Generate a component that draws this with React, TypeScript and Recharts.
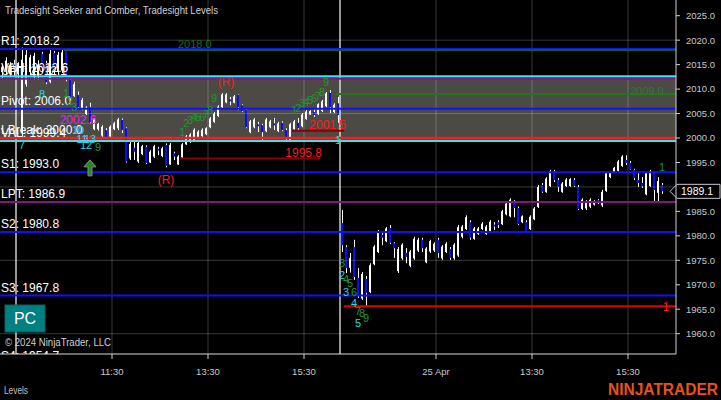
import React from "react";
import {
  ComposedChart,
  Bar,
  XAxis,
  YAxis,
  ReferenceLine,
  ReferenceArea,
  ReferenceDot,
} from "recharts";

const FONT = "'Liberation Sans', Arial, sans-serif";

// open, high, low, close (5 minute bars)
type Ohlc = [number, number, number, number];

const preSession: Ohlc[] = [
  [2013.5, 2015.0, 2012.0, 2014.5],
  [2014.0, 2016.5, 2013.0, 2015.8],
  [2013.0, 2015.5, 2012.5, 2015.0],
  [2015.0, 2016.0, 2012.5, 2013.5],
];

const sessionApr24: Ohlc[] = [
  [2013.0, 2015.5, 2012.0, 2015.0],
  [2001.0, 2018.5, 2000.2, 2016.0],
  [2011.0, 2018.0, 2010.5, 2017.0],
  [2013.5, 2017.0, 2012.9, 2016.5],
  [2012.5, 2017.4, 2011.9, 2016.8],
  [2012.5, 2015.9, 2011.9, 2015.0],
  [2017.2, 2017.6, 2013.3, 2014.3],
  [2015.3, 2015.8, 2011.0, 2011.4],
  [2011.5, 2018.0, 2011.2, 2017.2],
  [2017.4, 2017.8, 2013.0, 2013.9],
  [2013.5, 2017.6, 2012.9, 2017.0],
  [2013.8, 2018.0, 2013.3, 2017.5],
  [2018.0, 2018.2, 2011.6, 2012.0],
  [2011.9, 2012.2, 2008.2, 2008.4],
  [2008.6, 2011.5, 2008.4, 2011.0],
  [2008.8, 2009.5, 2006.0, 2006.3],
  [2006.0, 2008.2, 2005.7, 2007.8],
  [2004.9, 2006.5, 2004.7, 2006.2],
  [2006.3, 2007.2, 2003.0, 2003.2],
  [2001.8, 2004.1, 2001.6, 2003.8],
  [2001.8, 2003.1, 2001.5, 2002.9],
  [2000.5, 2002.6, 2000.2, 2002.3],
  [2001.6, 2002.0, 2000.0, 2000.2],
  [2000.3, 2002.6, 2000.0, 2002.3],
  [2001.8, 2003.3, 2001.6, 2003.0],
  [2002.0, 2004.1, 2001.6, 2003.8],
  [2003.7, 2004.0, 2001.0, 2001.6],
  [2002.0, 2002.2, 1995.0, 1995.2],
  [1995.8, 1999.2, 1995.5, 1998.8],
  [1998.0, 1999.2, 1995.5, 1997.2],
  [1995.2, 1999.6, 1994.9, 1999.0],
  [1996.7, 1998.6, 1996.5, 1998.3],
  [1998.2, 1998.5, 1994.7, 1994.9],
  [1995.0, 1997.5, 1994.9, 1997.2],
  [1996.2, 1998.6, 1995.9, 1998.3],
  [1997.8, 1998.2, 1996.5, 1997.4],
  [1996.3, 1998.2, 1996.1, 1997.9],
  [1998.6, 1998.9, 1994.0, 1994.3],
  [1994.6, 1999.0, 1994.5, 1998.6],
  [1996.9, 1997.2, 1995.5, 1996.2],
  [1994.6, 1996.5, 1994.5, 1996.2],
  [1996.0, 1999.0, 1995.9, 1998.7],
  [1998.7, 2000.6, 1998.6, 2000.3],
  [1999.2, 2001.0, 1999.0, 2000.7],
  [1999.4, 2002.0, 1999.2, 2001.7],
  [2000.2, 2001.6, 2000.0, 2001.3],
  [2000.4, 2002.0, 2000.2, 2001.7],
  [2000.8, 2002.2, 2000.6, 2002.0],
  [2002.2, 2004.3, 2002.0, 2004.0],
  [2003.3, 2005.3, 2003.1, 2005.0],
  [2004.5, 2006.7, 2004.3, 2006.4],
  [2006.3, 2009.2, 2006.1, 2008.9],
  [2007.3, 2009.2, 2007.1, 2008.9],
  [2007.9, 2008.4, 2006.7, 2007.5],
  [2007.2, 2008.8, 2007.1, 2008.5],
  [2008.8, 2008.9, 2005.7, 2006.3],
  [2006.7, 2006.9, 2005.3, 2005.5],
  [2005.7, 2006.0, 2002.0, 2002.2],
  [2001.2, 2003.7, 2001.0, 2003.4],
  [2002.2, 2004.1, 2002.0, 2003.8],
  [2002.8, 2003.3, 2001.2, 2002.4],
  [2002.6, 2002.9, 1999.6, 2001.2],
  [2001.4, 2004.1, 2001.2, 2003.8],
  [2002.2, 2003.7, 2002.0, 2003.4],
  [2003.0, 2004.1, 2001.6, 2002.6],
  [2001.4, 2003.3, 2001.2, 2003.0],
  [2003.1, 2003.4, 2001.4, 2001.6],
  [2001.6, 2002.0, 1999.6, 2000.0],
  [1999.4, 2003.1, 1999.2, 2002.8],
  [2001.8, 2003.7, 2001.6, 2003.4],
  [2003.1, 2004.1, 2001.6, 2002.0],
  [2002.4, 2005.1, 2002.2, 2004.8],
  [2003.9, 2005.7, 2003.7, 2005.4],
  [2004.8, 2005.7, 2004.7, 2005.5],
  [2005.3, 2006.1, 2004.3, 2004.7],
  [2004.9, 2007.1, 2004.7, 2006.9],
  [2005.5, 2007.8, 2005.3, 2007.5],
  [2006.5, 2009.4, 2006.3, 2009.1],
  [2009.2, 2009.8, 2005.1, 2006.3],
  [2005.3, 2007.1, 2005.1, 2006.8],
  [2007.1, 2008.4, 2003.1, 2004.7],
];

const sessionApr25: Ohlc[] = [
  [1982.6, 1985.3, 1976.7, 1978.1],
  [1977.7, 1978.1, 1972.4, 1973.4],
  [1973.5, 1976.5, 1972.5, 1975.5],
  [1977.7, 1979.2, 1971.0, 1971.6],
  [1971.4, 1973.4, 1967.3, 1967.9],
  [1967.2, 1972.6, 1966.9, 1972.2],
  [1971.2, 1971.8, 1965.5, 1968.3],
  [1968.5, 1974.4, 1968.3, 1974.0],
  [1974.2, 1978.1, 1974.0, 1977.8],
  [1976.7, 1981.2, 1976.5, 1980.8],
  [1980.2, 1980.8, 1978.1, 1979.6],
  [1978.9, 1981.8, 1978.7, 1981.5],
  [1981.6, 1982.2, 1978.3, 1978.6],
  [1978.5, 1978.7, 1975.5, 1977.5],
  [1972.8, 1977.7, 1972.4, 1977.3],
  [1975.4, 1978.5, 1975.1, 1978.2],
  [1976.5, 1977.5, 1974.4, 1975.7],
  [1973.9, 1977.1, 1973.6, 1976.8],
  [1975.4, 1979.8, 1975.1, 1979.4],
  [1977.0, 1979.6, 1976.7, 1979.2],
  [1979.2, 1979.6, 1976.7, 1977.5],
  [1974.6, 1977.7, 1974.4, 1977.4],
  [1976.8, 1979.2, 1976.5, 1978.9],
  [1977.0, 1978.7, 1976.7, 1978.4],
  [1979.2, 1979.6, 1975.5, 1976.5],
  [1975.4, 1978.1, 1975.1, 1977.8],
  [1976.7, 1978.7, 1976.5, 1978.4],
  [1977.3, 1977.7, 1975.1, 1975.5],
  [1975.4, 1978.5, 1975.1, 1978.2],
  [1976.0, 1982.2, 1975.7, 1981.8],
  [1979.8, 1982.2, 1979.5, 1981.9],
  [1981.4, 1984.2, 1981.2, 1983.8],
  [1982.8, 1983.2, 1979.2, 1979.6],
  [1979.4, 1981.8, 1979.2, 1981.5],
  [1980.4, 1981.8, 1980.2, 1981.5],
  [1981.4, 1982.8, 1981.2, 1982.5],
  [1980.4, 1982.2, 1980.2, 1981.9],
  [1981.0, 1983.2, 1980.8, 1982.9],
  [1982.3, 1982.8, 1981.2, 1981.9],
  [1982.8, 1983.2, 1981.6, 1982.2],
  [1982.4, 1985.3, 1982.2, 1985.0],
  [1984.4, 1986.9, 1984.2, 1986.6],
  [1984.0, 1987.7, 1983.8, 1987.4],
  [1986.7, 1987.3, 1983.8, 1985.7],
  [1985.7, 1986.0, 1982.2, 1982.4],
  [1982.8, 1984.2, 1982.6, 1984.0],
  [1982.8, 1983.2, 1980.6, 1980.8],
  [1981.4, 1984.2, 1981.2, 1983.9],
  [1983.4, 1985.9, 1983.2, 1985.6],
  [1985.9, 1990.4, 1985.7, 1990.0],
  [1990.4, 1990.8, 1988.8, 1989.0],
  [1989.0, 1992.0, 1988.8, 1991.7],
  [1990.2, 1993.5, 1990.0, 1993.2],
  [1993.1, 1993.5, 1991.0, 1991.4],
  [1991.4, 1991.8, 1989.0, 1990.0],
  [1989.0, 1991.0, 1988.8, 1990.7],
  [1990.2, 1991.8, 1990.0, 1991.5],
  [1990.2, 1991.8, 1990.0, 1991.6],
  [1991.4, 1991.8, 1990.0, 1990.2],
  [1990.0, 1990.4, 1985.3, 1985.5],
  [1985.5, 1987.7, 1985.3, 1987.4],
  [1985.6, 1987.3, 1985.3, 1987.0],
  [1986.0, 1987.7, 1985.7, 1987.4],
  [1986.4, 1987.3, 1986.2, 1987.0],
  [1987.3, 1987.5, 1986.5, 1986.7],
  [1986.2, 1989.4, 1985.9, 1989.0],
  [1989.2, 1993.1, 1989.0, 1992.8],
  [1992.0, 1993.1, 1991.8, 1992.9],
  [1993.0, 1994.1, 1992.8, 1993.9],
  [1993.3, 1995.5, 1993.1, 1995.2],
  [1994.3, 1996.5, 1994.1, 1996.2],
  [1995.5, 1996.5, 1994.5, 1994.9],
  [1994.9, 1995.3, 1993.5, 1993.6],
  [1993.5, 1993.7, 1991.4, 1991.8],
  [1991.4, 1992.8, 1990.0, 1990.8],
  [1990.8, 1992.0, 1989.8, 1990.1],
  [1988.5, 1993.1, 1988.3, 1992.8],
  [1990.2, 1993.5, 1990.0, 1993.2],
  [1993.1, 1993.1, 1986.9, 1989.4],
  [1988.8, 1992.0, 1987.0, 1991.2],
  [1990.4, 1990.8, 1988.6, 1989.1],
];

const SLOT_COUNT = 169;
const sessionStarts = [4, 85];
const timeTickSlots = [28, 52, 76, 109, 133, 157];
const timeTickLabels = ["11:30", "13:30", "15:30", "25 Apr", "13:30", "15:30"];
// 1990.0 is hidden behind the last-price marker
const priceTicks = [1960, 1965, 1970, 1975, 1980, 1985, 1995, 2000, 2005, 2010, 2015, 2020, 2025];
const gridPrices = [2020, 2005, 1990, 1975, 1960];

const BLUE = "#1010ff";
const CYAN = "#2ee8ee";
const PURPLE = "#8a108a";
const RED = "#ff1a1a";

// [label, price, colour]
const levels: [string, number, string][] = [
  ["R1: 2018.2", 2018.2, BLUE],
  ["VAH: 2012.6", 2012.6, CYAN],
  ["UPT: 2012.1", 2012.1, PURPLE],
  ["Pivot: 2006.0", 2006.0, BLUE],
  ["LBreak: 2000.0", 2000.0, RED],
  ["VAL: 1999.4", 1999.4, CYAN],
  ["S1: 1993.0", 1993.0, BLUE],
  ["LPT: 1986.9", 1986.9, PURPLE],
  ["S2: 1980.8", 1980.8, BLUE],
  ["S3: 1967.8", 1967.8, BLUE],
];
const valueArea = [1999.4, 2012.6];

// [fromSlot, toSlot, price, colour] drawn from end of fromSlot to end of toSlot
const segments: [number, number, number, string][] = [
  [15, 168, 2018.0, "#0b640b"],
  [83, 168, 2009.0, "#1b7a1b"],
  [44, 79, 1995.8, "#8b0000"],
  [72, 85, 2001.5, "#8b0000"],
  [85, 168, 1965.6, "#e00000"],
];

const G = "#24962a";
const C = "#22dde6";
// [slot, price, text, colour, anchor, size]
const notes: [number, number, string, string, string, number][] = [
  [44, 2019.2, "2018.0", "#1b6e1b", "start", 11],
  [157, 2009.6, "2009.0", "#2a7f2a", "start", 11],
  [80, 1996.9, "1995.8", RED, "end", 12],
  [86, 2002.6, "2001.5", RED, "end", 12],
  [166, 1965.4, "1", RED, "middle", 12],
  [56, 2011.4, "(R)", RED, "middle", 12],
  [41, 1991.4, "(R)", RED, "middle", 12],
  [19, 2003.7, "2002.6", "#ee22ee", "middle", 12],
  [10, 2009.0, "8", C, "middle", 11],
  [5, 1998.6, "7", C, "middle", 11],
  [16, 2009.2, "1", G, "middle", 11],
  [17, 2007.6, "2", G, "middle", 11],
  [18, 2006.4, "3", G, "middle", 11],
  [19, 2001.6, "10", C, "middle", 11],
  [20, 1999.8, "11", C, "middle", 11],
  [22, 1999.8, "13", C, "middle", 11],
  [21, 1998.6, "12", C, "middle", 11],
  [24, 1998.2, "9", G, "middle", 11],
  [45, 2001.2, "1", G, "middle", 11],
  [46, 2003.1, "2", G, "middle", 11],
  [47, 2003.7, "3", G, "middle", 11],
  [48, 2004.3, "4", G, "middle", 11],
  [49, 2004.3, "5", G, "middle", 11],
  [50, 2004.3, "6", G, "middle", 11],
  [51, 2004.9, "7", G, "middle", 11],
  [52, 2005.7, "8", G, "middle", 11],
  [53, 2008.2, "9", G, "middle", 11],
  [73, 2005.7, "1", G, "middle", 11],
  [74, 2006.1, "2", G, "middle", 11],
  [75, 2007.1, "3", G, "middle", 11],
  [76, 2007.4, "4", G, "middle", 11],
  [77, 2007.8, "5", G, "middle", 11],
  [78, 2008.2, "6", G, "middle", 11],
  [79, 2008.6, "7", G, "middle", 11],
  [80, 2009.4, "8", G, "middle", 11],
  [81, 2011.4, "9", G, "middle", 11],
  [84, 1999.6, "1", C, "middle", 11],
  [165, 1994.1, "1", G, "middle", 11],
  [85, 1974.4, "3", G, "middle", 11],
  [85, 1972.0, "2", C, "middle", 11],
  [86, 1971.2, "4", G, "middle", 11],
  [87, 1970.4, "5", G, "middle", 11],
  [86, 1968.5, "3", C, "middle", 11],
  [88, 1968.5, "6", G, "middle", 11],
  [88, 1966.3, "4", C, "middle", 11],
  [89, 1964.6, "7", G, "middle", 11],
  [90, 1964.2, "8", G, "middle", 11],
  [91, 1963.2, "9", G, "middle", 11],
  [89, 1962.2, "5", C, "middle", 11],
];

const arrowSignal = { slot: 22, price: 1993.9 };

const allBars = [...preSession, ...sessionApr24, ...sessionApr25];
const lastClose = sessionApr25[sessionApr25.length - 1][3];

const data = Array.from({ length: SLOT_COUNT }, (_, slot) => {
  const b = allBars[slot];
  return b
    ? { slot, open: b[0], high: b[1], low: b[2], close: b[3], range: [b[2], b[1]] }
    : { slot, range: null };
});

const Candle = (props: any) => {
  const { x, y, width, height, payload } = props;
  if (!payload || !payload.range) return null;
  const top = Math.min(y, y + height);
  const h = Math.abs(height);
  const span = payload.high - payload.low || 1;
  const py = (v: number) => top + ((payload.high - v) / span) * h;
  const cx = Math.round(x + width / 2);
  const b1 = py(Math.max(payload.open, payload.close));
  const b2 = py(Math.min(payload.open, payload.close));
  const up = payload.close >= payload.open;
  return (
    <g>
      <rect x={cx} y={top} width={1} height={Math.max(1, h)} fill="#ffffff" />
      <rect x={cx - 1} y={b1} width={2} height={Math.max(1, b2 - b1)} fill={up ? "#ffffff" : "#0a0aff"} />
    </g>
  );
};

const levelLabel = (text: string) => (props: any) => {
  const vb = props.viewBox || {};
  return (
    <text x={(vb.x ?? 0) + 1} y={(vb.y ?? 0) - 4} fill="#ffffff" fontSize={12} fontFamily={FONT}>
      {text}
    </text>
  );
};

const priceMarker = (props: any) => {
  const vb = props.viewBox || {};
  const x = (vb.x ?? 0) + (vb.width ?? 0);
  const y = vb.y ?? 0;
  return (
    <g>
      <polygon
        points={`${x - 6},${y} ${x + 1},${y - 7} ${x + 44},${y - 7} ${x + 44},${y + 7} ${x + 1},${y + 7}`}
        fill="#000"
        stroke="#c8c8c8"
      />
      <text x={x + 5} y={y + 4} fill="#ffffff" fontSize={10.5} fontFamily={FONT}>
        {lastClose.toFixed(1)}
      </text>
    </g>
  );
};

const TimeTick = (props: any) => {
  const { x, payload } = props;
  const bx = x - (payload.offset || 0);
  const i = timeTickSlots.indexOf(payload.value);
  return (
    <g>
      <line x1={bx} x2={bx} y1={354} y2={359} stroke="#d0d0d0" />
      <text x={bx} y={375} textAnchor="middle" fill="#c8c8c8" fontSize={9.5} fontFamily={FONT}>
        {i >= 0 ? timeTickLabels[i] : ""}
      </text>
    </g>
  );
};

const noteShape = (text: string, color: string, anchor: string, size: number) => (p: any) => (
  <text
    x={p.cx}
    y={p.cy}
    textAnchor={anchor as any}
    dominantBaseline="central"
    fill={color}
    fontSize={size}
    fontFamily={FONT}
  >
    {text}
  </text>
);

const arrowShape = (p: any) => {
  const { cx, cy } = p;
  const pts = [
    [cx, cy - 8],
    [cx + 6, cy - 1],
    [cx + 2, cy - 1],
    [cx + 2, cy + 8],
    [cx - 2, cy + 8],
    [cx - 2, cy - 1],
    [cx - 6, cy - 1],
  ]
    .map((q) => q.join(","))
    .join(" ");
  return <polygon points={pts} fill="#1e8c1e" stroke="#8a8a8a" strokeWidth={1} />;
};

export default function App() {
  return (
    <div style={{ position: "relative", width: 721, height: 400, background: "#000", overflow: "hidden" }}>
      <style>{"body{margin:0;background:#000}"}</style>
      <ComposedChart
        width={721}
        height={400}
        data={data}
        margin={{ top: 0, right: 0, bottom: 0, left: 0 }}
        barCategoryGap={0}
        barGap={0}
        style={{ background: "#000" }}
      >
        <XAxis
          dataKey="slot"
          type="category"
          ticks={timeTickSlots}
          interval={0}
          height={46}
          tickLine={false}
          axisLine={{ stroke: "#d8d8d8" }}
          tick={<TimeTick />}
        />
        <YAxis
          orientation="right"
          type="number"
          width={45}
          domain={[1955.85, 2028.21]}
          allowDataOverflow
          ticks={priceTicks}
          tickFormatter={(v: number) => v.toFixed(1)}
          tickSize={4}
          tickMargin={6}
          stroke="#d0d0d0"
          tick={{ fill: "#c8c8c8", fontSize: 9.5, fontFamily: FONT }}
        />
        <ReferenceArea y1={valueArea[0]} y2={valueArea[1]} fill="#4b4a45" fillOpacity={1} stroke="none" />
        {gridPrices.map((p) => (
          <ReferenceLine key={"gy" + p} y={p} stroke="rgba(255,255,255,0.22)" />
        ))}
        {timeTickSlots.map((s) => (
          <ReferenceLine key={"gx" + s} x={s} position="start" stroke="rgba(255,255,255,0.22)" />
        ))}
        {sessionStarts.map((s) => (
          <ReferenceLine key={"ss" + s} x={s} position="start" stroke="#ffffff" strokeWidth={1.2} />
        ))}
        {levels.map(([name, value, color]) => (
          <ReferenceLine
            key={name}
            y={value}
            stroke={color}
            strokeWidth={color === RED ? 2.5 : 2}
            label={levelLabel(name)}
          />
        ))}
        {segments.map(([a, b, price, color]) => (
          <ReferenceLine
            key={"seg" + a + price}
            position="end"
            segment={[
              { x: a, y: price },
              { x: b, y: price },
            ]}
            stroke={color}
            strokeWidth={2}
          />
        ))}
        <ReferenceLine y={lastClose} stroke="none" label={priceMarker} />
        <Bar dataKey="range" isAnimationActive={false} shape={Candle} />
        <ReferenceDot
          x={arrowSignal.slot}
          y={arrowSignal.price}
          r={1}
          ifOverflow="visible"
          shape={arrowShape}
        />
        {notes.map(([slot, price, text, color, anchor, size], i) => (
          <ReferenceDot
            key={"n" + i}
            x={slot}
            y={price}
            r={1}
            ifOverflow="visible"
            shape={noteShape(text, color, anchor, size)}
          />
        ))}
      </ComposedChart>

      <svg
        width={721}
        height={400}
        style={{ position: "absolute", left: 0, top: 0, pointerEvents: "none" }}
        fontFamily={FONT}
      >
        <text x={5} y={14} fill="#d0d0d0" fontSize={10.5} textLength={213} lengthAdjust="spacingAndGlyphs">
          Tradesight Seeker and Comber, Tradesight Levels
        </text>
        <rect x={5} y={305} width={40} height={27} fill="#008080" stroke="#0b6060" />
        <text x={25} y={324} textAnchor="middle" fill="#ffffff" fontSize={16}>
          PC
        </text>
        <text x={5} y={346} fill="#d0d0d0" fontSize={10.5} textLength={106} lengthAdjust="spacingAndGlyphs">
          © 2024 NinjaTrader, LLC
        </text>
        <clipPath id="plotBottom">
          <rect x={0} y={336} width={120} height={18} />
        </clipPath>
        <text x={1} y={360} fill="#ffffff" fontSize={12} clipPath="url(#plotBottom)">
          S4: 1954.7
        </text>
        <text x={4} y={394} fill="#c0c0c0" fontSize={10} textLength={24} lengthAdjust="spacingAndGlyphs">
          Levels
        </text>
        <text
          x={608}
          y={395}
          fill="#e8501e"
          fontSize={16}
          fontWeight="bold"
          textLength={110}
          lengthAdjust="spacingAndGlyphs"
        >
          NINJATRADER
        </text>
      </svg>
    </div>
  );
}
